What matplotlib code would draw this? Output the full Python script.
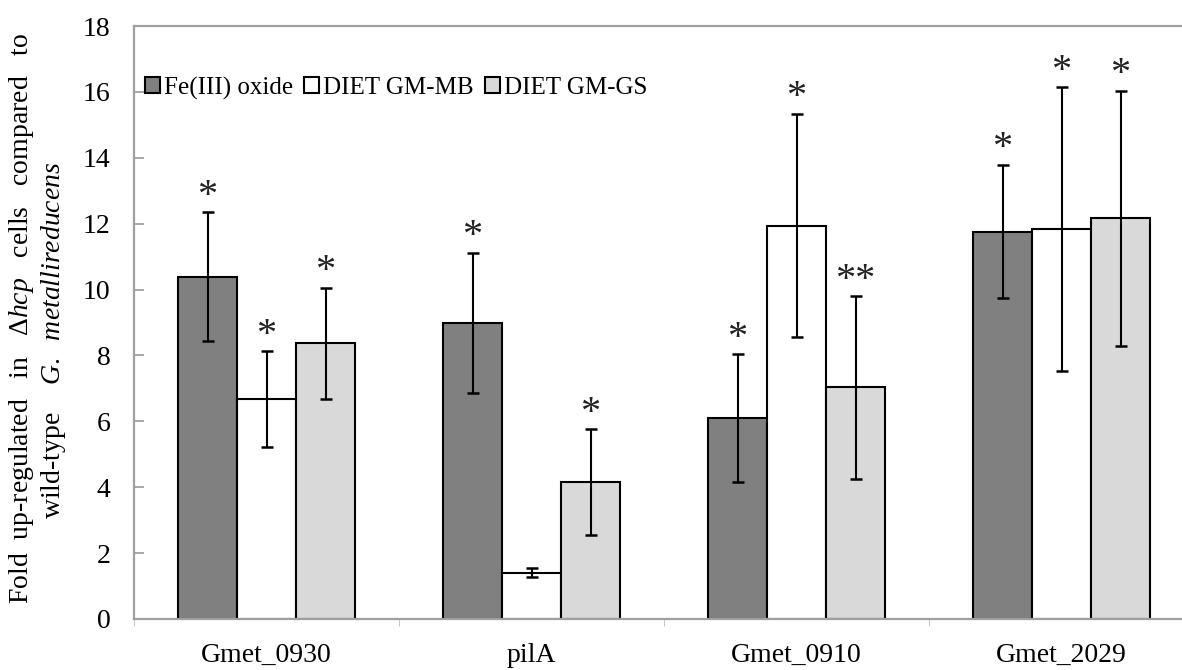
import numpy as np
import matplotlib
matplotlib.use("Agg")
import matplotlib.pyplot as plt

categories = ["Gmet_0930", "pilA", "Gmet_0910", "Gmet_2029"]
series = ["Fe(III) oxide", "DIET GM-MB", "DIET GM-GS"]
fe_vals = [10.39, 8.99, 6.10, 11.76]
fe_err = [1.95, 2.12, 1.93, 2.03]
mb_vals = [6.68, 1.41, 11.94, 11.83]
mb_err = [1.45, 0.15, 3.39, 4.31]
gs_vals = [8.37, 4.15, 7.03, 12.16]
gs_err = [1.68, 1.61, 2.77, 3.88]
fe_sig = ["*", "*", "*", "*"]
mb_sig = ["*", "", "*", "*"]
gs_sig = ["*", "*", "**", "*"]
yticks = [0, 2, 4, 6, 8, 10, 12, 14, 16, 18]

plt.rcParams['font.family'] = ['Liberation Serif', 'DejaVu Serif']
plt.rcParams['mathtext.fontset'] = 'custom'
plt.rcParams['mathtext.rm'] = 'Liberation Serif'
plt.rcParams['mathtext.it'] = 'Liberation Serif:italic'

W, H = 1182, 670
fig = plt.figure(figsize=(W / 100, H / 100), dpi=100)
ax = fig.add_axes([134 / W, 51 / H, 1060 / W, 593 / H])

colors = ["#808080", "#ffffff", "#d9d9d9"]
vals = [fe_vals, mb_vals, gs_vals]
errs = [fe_err, mb_err, gs_err]
sigs = [fe_sig, mb_sig, gs_sig]
x = np.arange(len(categories)) + 0.5
w = 59 / 265

for i in range(3):
    xi = x + (i - 1) * w
    ax.bar(xi, vals[i], width=w, color=colors[i], edgecolor="black",
           linewidth=1.5, label=series[i], zorder=2)
    ax.errorbar(xi, vals[i], yerr=errs[i], fmt="none", ecolor="black",
                elinewidth=1.5, capsize=4.5, capthick=1.8, zorder=3)
    for xx, v, e, s in zip(xi, vals[i], errs[i], sigs[i]):
        if s:
            ax.text(xx, v + e + 0.2, s, ha="center", va="baseline",
                    fontsize=29, color="#222222", zorder=4)

ax.set_xlim(0, 4)
ax.set_ylim(0, 18)
ax.set_yticks(yticks)
ax.set_xticks(x)
ax.set_xticklabels(categories, fontsize=20)
ax.set_xticks(np.arange(0, 5), minor=True)
ax.tick_params(axis="x", which="major", length=0, pad=17)
ax.tick_params(axis="x", which="minor", length=5, color="#bbbbbb", direction="out")
ax.tick_params(axis="y", direction="in", length=7, color="#a0a0a0", width=1.3,
               labelsize=20, pad=17)
for sp in ax.spines.values():
    sp.set_color("#a0a0a0")
    sp.set_linewidth(1.6)

leg = ax.legend(loc="center left", bbox_to_anchor=(145 / W, 1 - 88 / H),
                bbox_transform=fig.transFigure, ncol=3, frameon=False,
                fontsize=18, handlelength=0.6, handleheight=0.6,
                handletextpad=0.15, columnspacing=0.45, borderpad=0,
                borderaxespad=0)

fig.text(22 / W, 1 - 318 / H,
         r"Fold  up-regulated   in   $\Delta\mathit{hcp}$   cells   compared   to",
         rotation=90, ha="center", va="center", fontsize=20)
fig.text(54 / W, 1 - 340 / H,
         r"wild-type    $\mathit{G.}$  $\mathit{metallireducens}$",
         rotation=90, ha="center", va="center", fontsize=20)

fig.savefig("out.png", dpi=100)
